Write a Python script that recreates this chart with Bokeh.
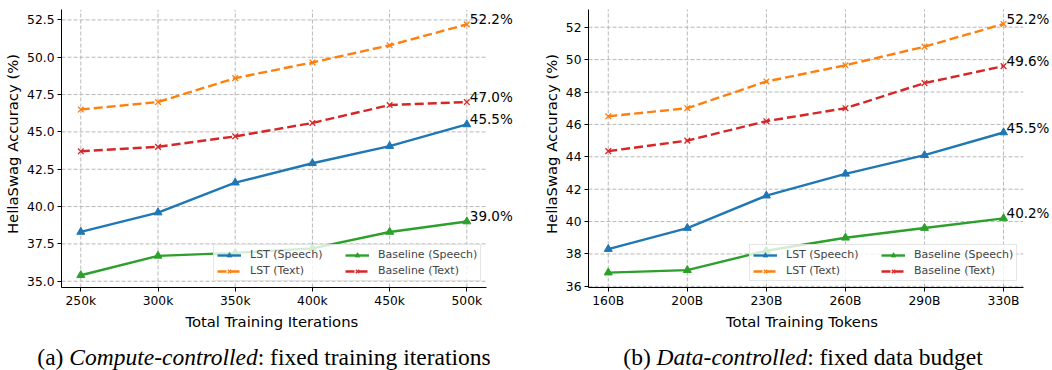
from bokeh.plotting import figure
from bokeh.models import (Range1d, FixedTicker, Legend, LegendItem, Label, Div,
                          PrintfTickFormatter, Title)
from bokeh.layouts import row, column
from bokeh.embed import file_html
from bokeh.resources import INLINE

# ---------------- data ----------------
iter_labels = ["250k", "300k", "350k", "400k", "450k", "500k"]
token_labels = ["160B", "200B", "230B", "260B", "290B", "330B"]

a_lst_speech = [38.3, 39.6, 41.6, 42.9, 44.05, 45.5]
a_lst_text = [46.5, 47.0, 48.6, 49.65, 50.8, 52.2]
a_base_speech = [35.4, 36.7, 36.9, 37.2, 38.3, 39.0]
a_base_text = [43.7, 44.0, 44.7, 45.6, 46.8, 47.0]

b_lst_speech = [38.3, 39.6, 41.6, 42.95, 44.1, 45.5]
b_lst_text = [46.5, 47.0, 48.65, 49.65, 50.8, 52.2]
b_base_speech = [36.85, 37.0, 38.2, 39.0, 39.6, 40.2]
b_base_text = [44.35, 45.0, 46.2, 47.0, 48.55, 49.6]

a_yticks = [35.0, 37.5, 40.0, 42.5, 45.0, 47.5, 50.0, 52.5]
b_yticks = [36, 38, 40, 42, 44, 46, 48, 50, 52]

series_names = ["LST (Speech)", "LST (Text)", "Baseline (Speech)", "Baseline (Text)"]

BLUE, ORANGE, GREEN, RED = "#1f77b4", "#ff7f0e", "#2ca02c", "#d62728"
FONT = "DejaVu Sans"
GRID = "#b8b8b8"


def make_panel(cats, series, yticks, yfmt, yr, y_top, x_end, width, bl, xlabel,
               xlabel_off, leg_loc):
    n = len(cats)
    x0, x1 = -0.25, n - 0.75
    y0 = yr[0]
    p = figure(width=width, height=330, output_backend="svg", toolbar_location=None,
               x_range=Range1d(x0, x_end), y_range=Range1d(*yr),
               min_border_left=bl, min_border_right=0, min_border_top=0,
               min_border_bottom=42)
    p.outline_line_color = None
    p.background_fill_color = "white"
    p.border_fill_color = "white"
    xs = list(range(n))

    p.xaxis.ticker = FixedTicker(ticks=xs)
    p.xaxis.major_label_overrides = {i: c for i, c in enumerate(cats)}
    p.xaxis.bounds = (x0, x1)
    p.yaxis.ticker = FixedTicker(ticks=yticks)
    p.yaxis.formatter = PrintfTickFormatter(format=yfmt)
    p.yaxis.bounds = (y0, y_top)
    p.yaxis.axis_label = "HellaSwag Accuracy (%)"
    for ax in (p.xaxis, p.yaxis):
        ax.axis_line_color = "black"
        ax.axis_line_width = 1
        ax.major_tick_line_color = "black"
        ax.major_tick_in = 0
        ax.major_tick_out = 4
        ax.minor_tick_line_color = None
        ax.major_label_text_font = FONT
        ax.major_label_text_font_size = "12.3px"
        ax.major_label_text_color = "black"
        ax.axis_label_text_font = FONT
        ax.axis_label_text_font_size = "14.8px"
        ax.axis_label_text_font_style = "normal"
        ax.axis_label_text_color = "black"
    p.xaxis.major_label_standoff = 2
    p.yaxis.major_label_standoff = 3
    p.yaxis.axis_label_standoff = 3

    p.add_layout(Title(text=xlabel, align="left", offset=xlabel_off, text_font=FONT,
                       text_font_size="14.8px", text_font_style="normal",
                       text_color="black", standoff=1), "below")

    # grid limited to the axes box
    p.grid.grid_line_color = None
    p.segment(x0=xs, x1=xs, y0=[y0] * n, y1=[y_top] * n,
              line_color=GRID, line_dash="4 2", line_width=1)
    p.segment(x0=[x0] * len(yticks), x1=[x1] * len(yticks), y0=yticks, y1=yticks,
              line_color=GRID, line_dash="4 2", line_width=1)

    lst_s, lst_t, base_s, base_t = series
    r1 = p.line(xs, lst_s, line_color=BLUE, line_width=2.4)
    m1 = p.scatter(xs, lst_s, marker="triangle", size=8, fill_color=BLUE, line_color=BLUE)
    r2 = p.line(xs, lst_t, line_color=ORANGE, line_width=2.4, line_dash="9 4")
    m2 = p.scatter(xs, lst_t, marker="x", size=8, line_color=ORANGE, line_width=1.3)
    r3 = p.line(xs, base_s, line_color=GREEN, line_width=2.4)
    m3 = p.scatter(xs, base_s, marker="triangle", size=8, fill_color=GREEN, line_color=GREEN)
    r4 = p.line(xs, base_t, line_color=RED, line_width=2.4, line_dash="9 4")
    m4 = p.scatter(xs, base_t, marker="x", size=8, line_color=RED, line_width=1.3)

    legend = Legend(items=[
        LegendItem(label=series_names[0], renderers=[r1, m1]),
        LegendItem(label=series_names[1], renderers=[r2, m2]),
        LegendItem(label=series_names[2], renderers=[r3, m3]),
        LegendItem(label=series_names[3], renderers=[r4, m4]),
    ], location=leg_loc, ncols=2, orientation="vertical")
    legend.label_text_font = FONT
    legend.label_text_font_size = "11px"
    legend.glyph_width = 24
    legend.glyph_height = 12
    legend.label_height = 12
    legend.label_width = 92
    legend.label_standoff = 9
    legend.spacing = 3
    legend.padding = 3
    legend.margin = 0
    legend.border_line_color = "#cccccc"
    legend.border_line_width = 1
    legend.background_fill_alpha = 0.8
    p.add_layout(legend)

    for vals in series:
        p.add_layout(Label(x=xs[-1], y=vals[-1], text=f"{vals[-1]:.1f}%",
                           x_offset=3, y_offset=5, text_font=FONT,
                           text_font_size="13.5px", text_baseline="alphabetic",
                           text_color="black"))
    return p


p1 = make_panel(iter_labels, [a_lst_speech, a_lst_text, a_base_speech, a_base_text],
                a_yticks, "%.1f", (34.58, 53.80), 53.17, 5.747, 524, 61,
                "Total Training Iterations", 123.9, (152, 6))
p2 = make_panel(token_labels, [b_lst_speech, b_lst_text, b_base_speech, b_base_text],
                b_yticks, "%d", (35.93, 53.65), 53.10, 5.619, 528, 64,
                "Total Training Tokens", 137.4, (161, 6))

caption_html = (
    '<div style="position:relative;width:1052px;height:40px;'
    "font-family:'Liberation Serif','Times New Roman',serif;font-size:23.5px;"
    'line-height:23.5px;color:#000;">'
    '<span style="position:absolute;left:259px;top:11px;transform:translateX(-50%);'
    'white-space:nowrap;">(a) <i>Compute-controlled</i>: fixed training iterations</span>'
    '<span style="position:absolute;left:798px;top:11px;transform:translateX(-50%);'
    'white-space:nowrap;">(b) <i>Data-controlled</i>: fixed data budget</span>'
    '</div>'
)
caption = Div(text=caption_html, width=1052, height=40)

layout = column(row(p1, p2), caption)
open("out.html", "w").write(file_html(layout, INLINE))
